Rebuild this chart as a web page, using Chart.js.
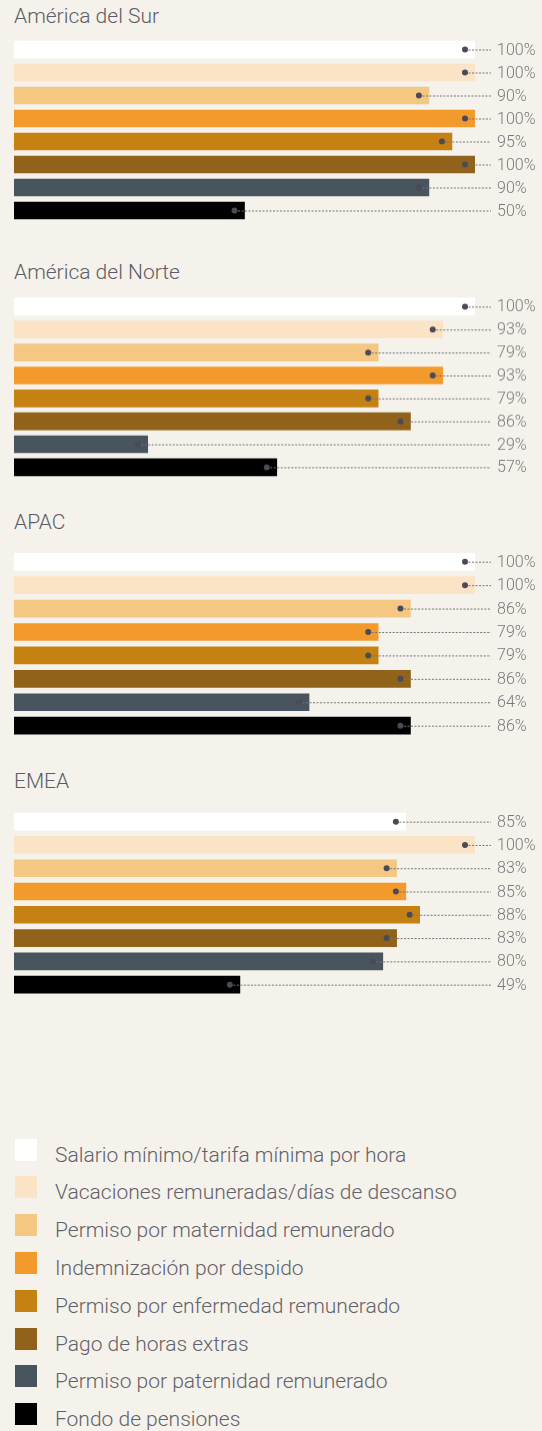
<!DOCTYPE html>
<html>
<head>
<meta charset="utf-8">
<script src="https://cdn.jsdelivr.net/npm/chart.js@4"></script>
<style>
  html, body { margin: 0; padding: 0; background: #f5f2eb; }
  body { width: 542px; height: 1431px; position: relative; overflow: hidden; font-family: Roboto, "Noto Sans", sans-serif; font-weight: 300; }
  .title { position: absolute; left: 14px; font-size: 21px; color: #5c5c66; line-height: 1; white-space: nowrap; }
  .panel { position: absolute; left: 0; width: 542px; }
  .leg-item { position: absolute; left: 0; width: 542px; height: 30px; }
  .leg-sw { position: absolute; left: 15px; top: 0; width: 22px; height: 22px; }
  .leg-tx { position: absolute; left: 55px; font-size: 21px; color: #616169; white-space: nowrap; line-height: 1; }
</style>
</head>
<body>
<script>
// ---- data ----
const categories = [
  "Salario mínimo/tarifa mínima por hora",
  "Vacaciones remuneradas/días de descanso",
  "Permiso por maternidad remunerado",
  "Indemnización por despido",
  "Permiso por enfermedad remunerado",
  "Pago de horas extras",
  "Permiso por paternidad remunerado",
  "Fondo de pensiones"
];
const regions = ["América del Sur", "América del Norte", "APAC", "EMEA"];
const southAmerica = [100, 100, 90, 100, 95, 100, 90, 50];
const northAmerica = [100, 93, 79, 93, 79, 86, 29, 57];
const apac         = [100, 100, 86, 79, 79, 86, 64, 86];
const emea         = [85, 100, 83, 85, 88, 83, 80, 49];
const regionValues = [southAmerica, northAmerica, apac, emea];

// ---- styles / layout ----
const colors = ["#ffffff", "#fbe4c6", "#f4c882", "#f39a2c", "#c68113", "#916219", "#48555f", "#000000"];
const firstCenters = [49.3, 306.5, 561.3, 821.3];
const lastCenters  = [210.3, 466.5, 725.3, 984.3];
const titleBaselines = [22.7, 279.3, 529.3, 788.3];
const legendTop = 1138.5;
const legendStep = 37.8;

const leaderPlugin = {
  id: 'leader',
  afterDatasetsDraw(chart) {
    const ctx = chart.ctx;
    const meta = chart.getDatasetMeta(0);
    const vals = chart.data.datasets[0].data;
    ctx.save();
    meta.data.forEach((bar, i) => {
      const x = bar.x - 10;
      const y = bar.y;
      ctx.beginPath();
      ctx.setLineDash([2, 1.5]);
      ctx.lineWidth = 1;
      ctx.strokeStyle = '#74747c';
      ctx.moveTo(x, y + 0.5);
      ctx.lineTo(491, y + 0.5);
      ctx.stroke();
      ctx.setLineDash([]);
      ctx.beginPath();
      ctx.fillStyle = '#4b4a56';
      ctx.arc(x, y, 3, 0, Math.PI * 2);
      ctx.fill();
      ctx.fillStyle = '#78787e';
      ctx.font = '300 16px Roboto, "Noto Sans", sans-serif';
      ctx.textAlign = 'left';
      ctx.textBaseline = 'middle';
      ctx.fillText(vals[i] + '%', 497, y + 1);
    });
    ctx.restore();
  }
};

regions.forEach((name, r) => {
  const t = document.createElement('div');
  t.className = 'title';
  t.textContent = name;
  t.style.top = (titleBaselines[r] - 17) + 'px';
  document.body.appendChild(t);

  const step = (lastCenters[r] - firstCenters[r]) / 7;
  const margin = 20;
  const top = firstCenters[r] - step / 2 - margin;
  const h = step * 8 + margin * 2;
  const wrap = document.createElement('div');
  wrap.className = 'panel';
  wrap.style.top = top + 'px';
  wrap.style.height = h + 'px';
  const cv = document.createElement('canvas');
  wrap.appendChild(cv);
  document.body.appendChild(wrap);

  new Chart(cv, {
    type: 'bar',
    data: {
      labels: categories,
      datasets: [{
        data: regionValues[r],
        backgroundColor: colors,
        borderWidth: 0,
        barThickness: 17,
        categoryPercentage: 1,
        barPercentage: 1
      }]
    },
    options: {
      indexAxis: 'y',
      responsive: true,
      maintainAspectRatio: false,
      animation: false,
      events: [],
      layout: { padding: { left: 14, right: 542 - 475, top: margin, bottom: margin } },
      plugins: { legend: { display: false }, tooltip: { enabled: false }, title: { display: false } },
      scales: {
        x: { type: 'linear', min: 0, max: 100, display: false },
        y: { type: 'category', offset: true, display: false }
      }
    },
    plugins: [leaderPlugin]
  });
});

categories.forEach((c, i) => {
  const it = document.createElement('div');
  it.className = 'leg-item';
  it.style.top = (legendTop + i * legendStep) + 'px';
  const sw = document.createElement('div');
  sw.className = 'leg-sw';
  sw.style.background = colors[i];
  const tx = document.createElement('div');
  tx.className = 'leg-tx';
  tx.style.top = '6px';
  tx.textContent = c;
  it.appendChild(sw);
  it.appendChild(tx);
  document.body.appendChild(it);
});
</script>
</body>
</html>
